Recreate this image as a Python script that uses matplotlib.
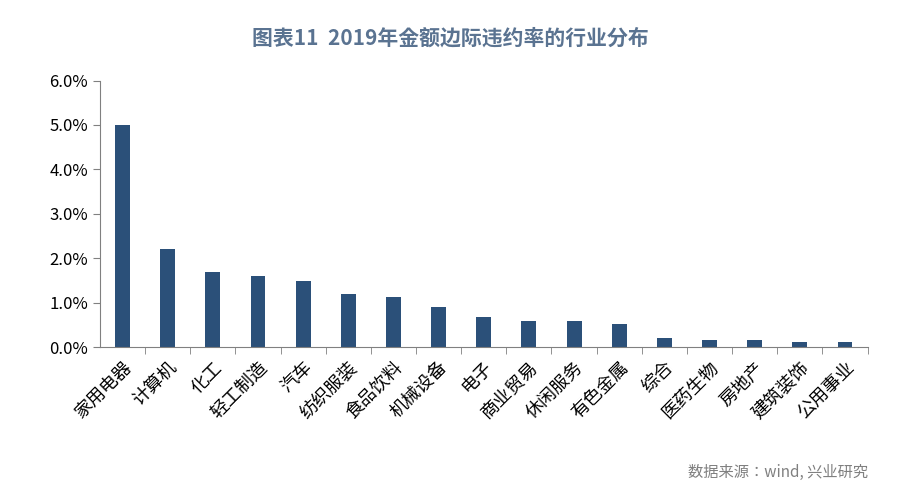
import matplotlib.pyplot as plt
from matplotlib.ticker import FuncFormatter

plt.rcParams['font.family'] = 'sans-serif'
plt.rcParams['font.sans-serif'] = ['Noto Sans CJK SC', 'Noto Sans CJK JP', 'DejaVu Sans']

industries = ['家用电器', '计算机', '化工', '轻工制造', '汽车', '纺织服装', '食品饮料', '机械设备',
              '电子', '商业贸易', '休闲服务', '有色金属', '综合', '医药生物', '房地产', '建筑装饰', '公用事业']
rates = [5.0, 2.2, 1.69, 1.6, 1.48, 1.19, 1.13, 0.9, 0.67, 0.58, 0.58, 0.53, 0.2, 0.16, 0.16, 0.13, 0.11]

fig = plt.figure(figsize=(9, 4.94), dpi=100)
ax = fig.add_axes([0.111, 0.297, 0.853, 0.54])

x = range(len(industries))
ax.bar(x, rates, width=0.33, color='#2b5079')
ax.set_xlim(-0.5, len(industries) - 0.5)
ax.set_ylim(0, 6)
ax.set_yticks([0, 1, 2, 3, 4, 5, 6])
ax.yaxis.set_major_formatter(FuncFormatter(lambda v, p: f'{v:.1f}%'))
ax.set_xticks([i + 0.5 for i in x], minor=True)
ax.set_xticks(list(x))
ax.set_xticklabels(industries, rotation=45, ha='right', rotation_mode='anchor', fontsize=13)
ax.tick_params(axis='x', which='major', length=0, pad=8)
ax.tick_params(axis='x', which='minor', length=5, direction='out', color='#808080')
ax.tick_params(axis='y', labelsize=12, length=5, color='#808080')
for s in ['top', 'right']:
    ax.spines[s].set_visible(False)
ax.spines['left'].set_color('#808080')
ax.spines['bottom'].set_color('#808080')

fig.text(0.5, 0.91, '图表11  2019年金额边际违约率的行业分布', ha='center', fontsize=15,
         color='#5a7391', fontweight='bold')
fig.text(0.965, 0.035, '数据来源：wind, 兴业研究', ha='right', fontsize=11, color='#808080')

plt.savefig('out.png', dpi=100)
